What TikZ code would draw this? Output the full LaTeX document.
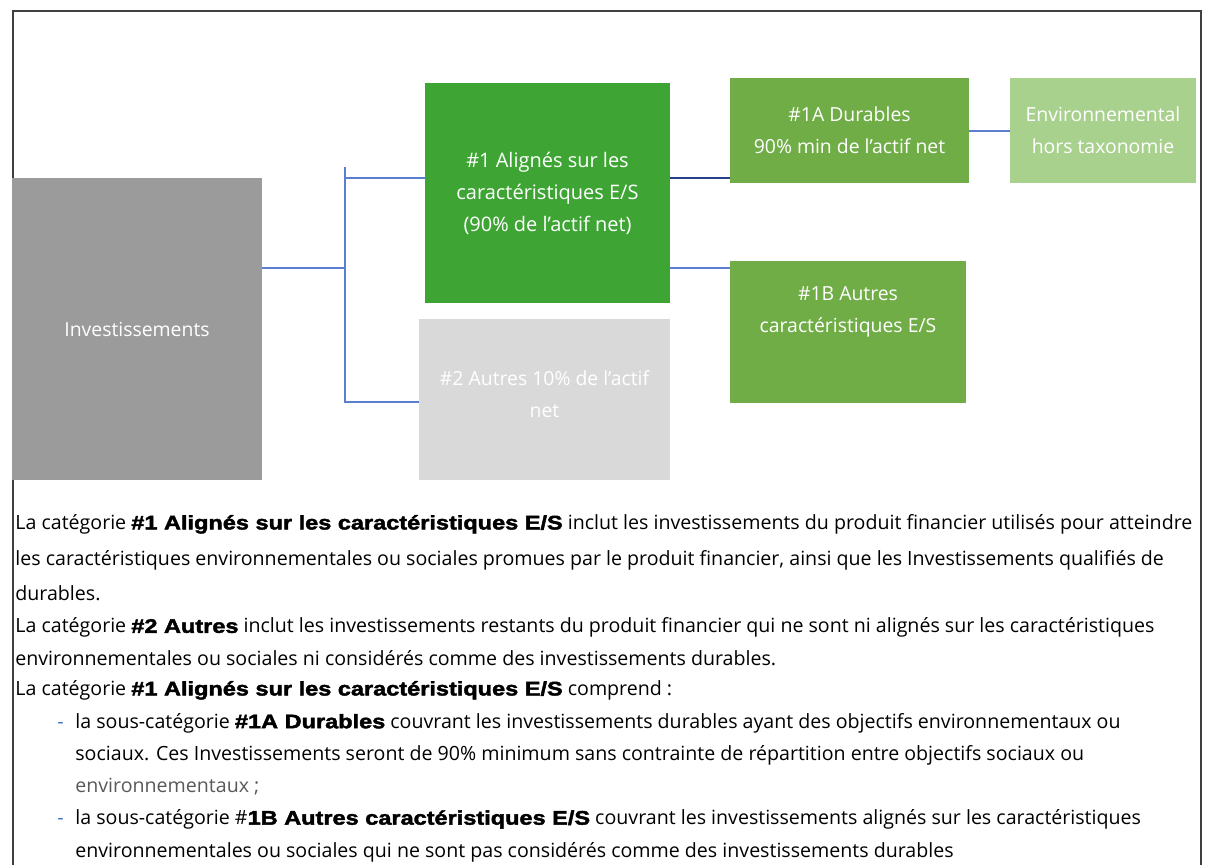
\documentclass[tikz,border=0pt]{standalone}
\usepackage{fontspec}
\setmainfont{Open Sans}
\newfontfamily\heavyfont[BoldFeatures={FakeBold=2.2, FakeStretch=1.2}]{Liberation Sans}
\usepackage{xcolor}
\usetikzlibrary{positioning, calc}
\definecolor{framegray}{RGB}{64, 64, 64}
\definecolor{invgray}{RGB}{155, 155, 155}
\definecolor{othergray}{RGB}{217, 217, 217}
\definecolor{aligngreen}{RGB}{62, 165, 53}
\definecolor{subgreen}{RGB}{112, 173, 71}
\definecolor{envgreen}{RGB}{169, 209, 142}
\definecolor{linkblue}{RGB}{91, 127, 207}
\definecolor{darkblue}{RGB}{36, 64, 135}
\definecolor{dashblue}{RGB}{68, 114, 196}
\definecolor{softgray}{RGB}{89, 89, 89}
\newcommand{\hv}[1]{{\heavyfont\bfseries #1}}

\begin{document}
\begin{tikzpicture}[x=0.5pt, y=-0.5pt]
    \tikzset{
        catbox/.style={rectangle, inner sep=0pt, align=center, text=white, font=\fontsize{9.7}{16}\selectfont},
        link/.style={draw=linkblue, line width=1pt},
    }
    \useasboundingbox (0,0) rectangle (1208,864);
    \draw[framegray, line width=1.1pt] (13,880) -- (13,11) -- (1201,11) -- (1201,880);

    \coordinate (fork) at (345,268);
    \coordinate (up) at (345,178);
    \coordinate (trunktop) at (345,167);
    \coordinate (trunkbot) at (345,402);

    \node[catbox, fill=invgray, minimum width=125pt, minimum height=151pt] (inv) at (137,329) {Investissements};
    \node[catbox, fill=aligngreen, minimum width=122.5pt, minimum height=110pt, font=\fontsize{10}{16}\selectfont] (cat1) at (547.5,193) {\#1 Alignés sur les\\caractéristiques E/S\\(90\% de l’actif net)};
    \node[catbox, fill=othergray, minimum width=125.5pt, minimum height=80.5pt] (cat2) at (544.5,399.5) {};
    \node[catbox] (cat2text) at ([yshift=2.5pt]cat2.center) {\#2 Autres 10\% de l’actif\\net};
    \node[catbox, fill=subgreen, minimum width=119.5pt, minimum height=52.5pt] (cat1A) at (849.5,130.5) {\#1A Durables\\90\% min de l’actif net};
    \node[catbox, fill=envgreen, minimum width=93pt, minimum height=52.5pt] (env) at (1103,130.5) {Environnemental\\hors taxonomie};
    \node[catbox, fill=subgreen, minimum width=118pt, minimum height=71pt] (cat1B) at (848,332) {};
    \node[catbox] (cat1Btext) at ([yshift=10pt]cat1B.center) {\#1B Autres\\caractéristiques E/S};

    \draw[link] (inv.east |- fork) -- (fork);
    \draw[link] (trunktop) -- (trunkbot) -- (cat2.west |- trunkbot);
    \draw[link] (up) -- (cat1.west |- up);
    \draw[link, draw=darkblue] (cat1.east |- up) -- (cat1A.west |- up);
    \draw[link] (cat1.east |- fork) -- (cat1B.west |- fork);
    \draw[link] (cat1A.east) -- (env.west);

    \node[anchor=north west, inner sep=0pt, align=left, font=\fontsize{9.8}{16.4}\selectfont] (notes) at (15,514) {
        La catégorie \hv{\#1 Alignés sur les caractéristiques E/S} inclut les investissements du produit financier utilisés pour atteindre\\[1.5pt]
        les caractéristiques environnementales ou sociales promues par le produit financier, ainsi que les Investissements qualifiés de\\[1pt]
        durables.\\
        La catégorie \hv{\#2 Autres} inclut les investissements restants du produit financier qui ne sont ni alignés sur les caractéristiques\\
        environnementales ou sociales ni considérés comme des investissements durables.\\[-1.5pt]
        La catégorie \hv{\#1 Alignés sur les caractéristiques E/S} comprend :\\
        \makebox[30pt][l]{\hspace*{21pt}\textcolor{dashblue}{-}}la sous-catégorie \hv{\#1A Durables} couvrant les investissements durables ayant des objectifs environnementaux ou\\[-0.5pt]
        \hspace*{30pt}sociaux. Ces Investissements seront de 90\% minimum sans contrainte de répartition entre objectifs sociaux ou\\
        \hspace*{30pt}\textcolor{softgray}{environnementaux ;}\\[-0.5pt]
        \makebox[30pt][l]{\hspace*{21pt}\textcolor{dashblue}{-}}la sous-catégorie \#\hv{1B Autres caractéristiques E/S} couvrant les investissements alignés sur les caractéristiques\\
        \hspace*{30pt}environnementales ou sociales qui ne sont pas considérés comme des investissements durables
    };
\end{tikzpicture}
\end{document}
